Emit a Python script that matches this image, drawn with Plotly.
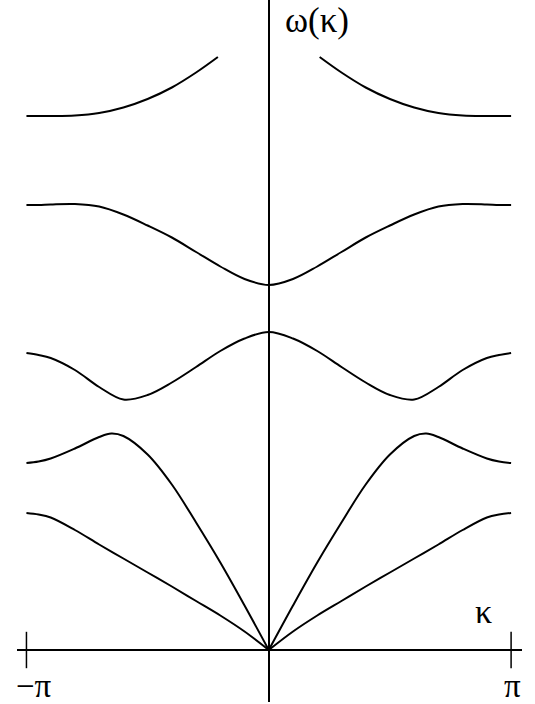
# -*- coding: utf-8 -*-
"""
Dispersion branches omega(kappa) over the first Brillouin zone.
"""
# Third party
import plotly.graph_objects as go

# kappa in units of pi, left half of the zone (right half is the mirror)
KAPPA = [-1.0, -0.95, -0.9, -0.8, -0.7, -0.6, -0.5, -0.4, -0.3, -0.2, -0.1,
         0.0]

OMEGA_1 = [2.74, 2.71, 2.65, 2.40, 2.11, 1.83, 1.55, 1.27, 0.98, 0.69, 0.37,
           0.0]

KAPPA_2 = [-1.0, -0.95, -0.9, -0.8, -0.7, -0.65, -0.6, -0.5, -0.4, -0.3,
           -0.2, -0.1, 0.0]
OMEGA_2 = [3.74, 3.77, 3.83, 4.03, 4.26, 4.33, 4.28, 3.91, 3.31, 2.55,
           1.75, 0.89, 0.0]

OMEGA_3 = [5.94, 5.90, 5.84, 5.60, 5.26, 5.01, 5.10, 5.35, 5.66, 5.98, 6.23,
           6.36]

OMEGA_4 = [8.90, 8.90, 8.91, 8.92, 8.87, 8.71, 8.49, 8.25, 7.96, 7.67, 7.42,
           7.30]

KAPPA_5 = [-1.0, -0.9, -0.8, -0.7, -0.6, -0.5, -0.4, -0.3, -0.21]
OMEGA_5 = [10.68, 10.68, 10.69, 10.74, 10.85, 11.02, 11.25, 11.55, 11.86]

TICK_KAPPA = [-1.0, 1.0]
TICK_OMEGA = [0.0, 0.0]

FONT = "Liberation Serif"
LINE = dict(color="black", width=2, shape="spline", smoothing=1.0)


def _mirror(kappa, omega):
    # right half of the zone, read as the reflection of the left half
    return [-k for k in reversed(kappa)], list(reversed(omega))


def _add_halves(fig, kappa, omega):
    for k, w in [(kappa, omega), _mirror(kappa, omega)]:
        fig.add_trace(go.Scatter(x=k, y=w, mode="lines", line=LINE,
                                 hoverinfo="skip"))
    return fig


def _add_whole(fig, kappa, omega):
    k_right, w_right = _mirror(kappa, omega)
    fig.add_trace(go.Scatter(x=kappa + k_right[1:], y=omega + w_right[1:],
                             mode="lines", line=LINE, hoverinfo="skip"))
    return fig


def band_figure():
    fig = go.Figure()
    fig = _add_halves(fig, KAPPA, OMEGA_1)
    fig = _add_halves(fig, KAPPA_2, OMEGA_2)
    fig = _add_whole(fig, KAPPA, OMEGA_3)
    fig = _add_whole(fig, KAPPA, OMEGA_4)
    fig = _add_halves(fig, KAPPA_5, OMEGA_5)

    # the +-pi tick marks crossing the kappa axis
    fig.add_trace(go.Scatter(x=TICK_KAPPA, y=TICK_OMEGA, mode="markers",
                             marker=dict(symbol="line-ns", size=26,
                                         line=dict(color="black", width=1.5)),
                             hoverinfo="skip"))

    labels = [("ω(κ)", 0.198, 12.60, 35),
              ("κ", 0.885, 0.78, 34),
              ("−π", -0.967, -0.72, 33),
              ("π", 1.006, -0.72, 33)]
    for text, x, y, size in labels:
        fig.add_annotation(x=x, y=y, text=text, showarrow=False,
                           xanchor="center", yanchor="middle",
                           font=dict(family=FONT, size=size, color="black"))

    axis = dict(showgrid=False, showticklabels=False, ticks="",
                zeroline=True, zerolinecolor="black", zerolinewidth=1.5,
                showline=False)
    fig.update_xaxes(range=[-1.039, 1.045], **axis)
    fig.update_yaxes(range=[-1.04, 13.0], **axis)
    fig.update_layout(width=535, height=704,
                      margin=dict(l=17, r=13, t=0, b=2),
                      plot_bgcolor="white", paper_bgcolor="white",
                      showlegend=False)
    return fig


if __name__ == "__main__":
    figure = band_figure()
    # drop the page's default body margin so the figure sits at the corner
    figure.write_html("out.html",
                      config={"displayModeBar": False},
                      post_script="document.body.style.margin = '0';")
